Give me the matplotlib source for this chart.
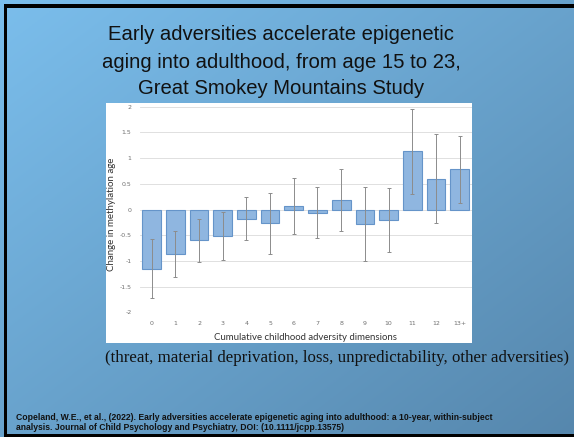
import matplotlib.pyplot as plt
import numpy as np
from matplotlib.patches import Rectangle

# data
categories = ["0", "1", "2", "3", "4", "5", "6", "7", "8", "9", "10", "11", "12", "13+"]
change = [-1.16, -0.87, -0.60, -0.51, -0.18, -0.27, 0.07, -0.07, 0.18, -0.29, -0.21, 1.13, 0.59, 0.78]
err_low = [0.57, 0.45, 0.43, 0.47, 0.42, 0.59, 0.54, 0.49, 0.60, 0.71, 0.61, 0.82, 0.86, 0.65]
err_high = [0.58, 0.45, 0.42, 0.47, 0.43, 0.59, 0.55, 0.50, 0.61, 0.72, 0.62, 0.82, 0.87, 0.65]
yticks = [-2, -1.5, -1, -0.5, 0, 0.5, 1, 1.5, 2]
ytick_labels = ["-2", "-1.5", "-1", "-0.5", "0", "0.5", "1", "1.5", "2"]

W, H = 574, 437
fig = plt.figure(figsize=(W / 100, H / 100), dpi=100)

# slide background: diagonal blue gradient
bg = fig.add_axes([0, 0, 1, 1])
gx, gy = np.meshgrid(np.linspace(0, 1, 200), np.linspace(0, 1, 200))
t = (gx + gy) / 2
c0 = np.array([123, 190, 236]) / 255
c1 = np.array([86, 135, 173]) / 255
img = c0[None, None, :] * (1 - t[..., None]) + c1[None, None, :] * t[..., None]
bg.imshow(img, extent=[0, 1, 0, 1], aspect="auto", origin="upper")
bg.set_xlim(0, 1)
bg.set_ylim(0, 1)
bg.axis("off")

def fx(px):
    return px / W

def fy(py):
    return 1 - py / H

# black slide frame
bg.add_patch(Rectangle((fx(4), 0), fx(3), fy(4), color="black", lw=0))
bg.add_patch(Rectangle((fx(4), fy(8)), 1, fy(4) - fy(8), color="black", lw=0))
bg.add_patch(Rectangle((fx(4), 0), 1, fy(434), color="black", lw=0))

# white chart panel
bg.add_patch(Rectangle((fx(106), fy(343)), fx(472) - fx(106), fy(103) - fy(343),
                       color="white", lw=0))

# title
title_kw = dict(ha="center", va="center", fontsize=14.6, family="Liberation Sans", color="#111111")
fig.text(fx(281), fy(34), "Early adversities accelerate epigenetic", **title_kw)
fig.text(fx(281), fy(62), "aging into adulthood, from age 15 to 23,", **title_kw)
fig.text(fx(281), fy(89), "Great Smokey Mountains Study", **title_kw)

# bar chart
ax = fig.add_axes([fx(139.8), fy(312.3), fx(471.5) - fx(139.8), fy(106.7) - fy(312.3)])
x = np.arange(len(categories))
ax.bar(x, change, width=0.79, color="#8fb6e0", edgecolor="#6594c9", linewidth=0.8, zorder=2)
ax.errorbar(x, change, yerr=[err_low, err_high], fmt="none", ecolor="#8c8c8c",
            elinewidth=0.7, capsize=1.5, capthick=0.7, zorder=3)
ax.set_xlim(-0.5, len(categories) - 0.5)
ax.set_ylim(-2, 2)
ax.set_yticks(yticks)
ax.set_yticklabels(ytick_labels)
ax.set_xticks(x)
ax.set_xticklabels(categories)
ax.tick_params(length=0, labelsize=4.5, labelcolor="#707070", pad=6)
ax.tick_params(axis="x", pad=6)
ax.grid(axis="y", color="#dadada", linewidth=0.6, zorder=0)
for s in ax.spines.values():
    s.set_visible(False)
ax.set_facecolor("none")

fig.text(fx(112), fy(214), "Change in methylation age", rotation=90, ha="center", va="center",
         fontsize=7, family="Lato", color="#333333")
fig.text(fx(305), fy(338), "Cumulative childhood adversity dimensions", ha="center", va="center",
         fontsize=6.9, family="Lato", color="#333333")

# caption under chart
fig.text(fx(337), fy(358), "(threat, material deprivation, loss, unpredictability, other adversities)",
         ha="center", va="center", fontsize=12.2, family="Liberation Serif", color="#111111")

# citation
cite_kw = dict(ha="left", va="center", fontsize=6.2, family="Liberation Sans", weight="bold",
               color="#111111")
fig.text(fx(16), fy(418), "Copeland, W.E., et al., (2022). Early adversities accelerate epigenetic aging into adulthood: a 10-year, within-subject", **cite_kw)
fig.text(fx(16), fy(428), "analysis. Journal of Child Psychology and Psychiatry, DOI: (10.1111/jcpp.13575)", **cite_kw)

fig.savefig("out.png", dpi=100)
